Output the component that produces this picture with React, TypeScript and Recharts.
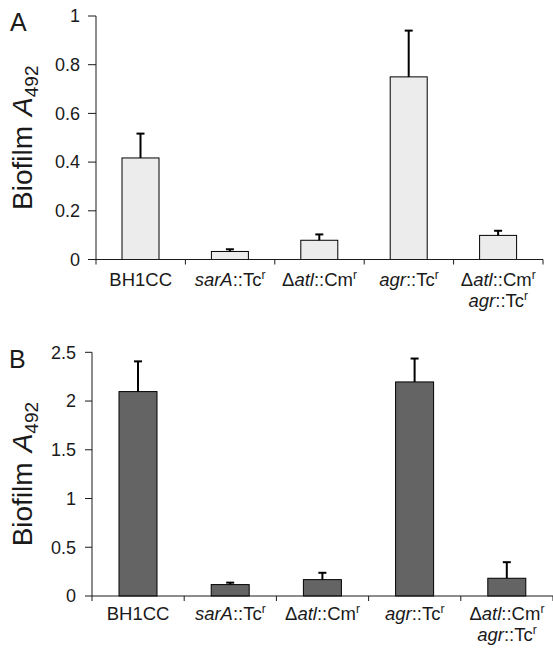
import React from "react";
import { BarChart, Bar, XAxis, YAxis } from "recharts";

// strain labels: *...* = italic, ^x = superscript, | = line break
const strains = ["BH1CC", "*sarA*::Tc^r", "Δ*atl*::Cm^r", "*agr*::Tc^r", "Δ*atl*::Cm^r|*agr*::Tc^r"];

const biofilmA = [0.417, 0.033, 0.079, 0.75, 0.099];
const errorA = [0.1, 0.009, 0.024, 0.19, 0.019];
const ticksA = [0, 0.2, 0.4, 0.6, 0.8, 1];

const biofilmB = [2.097, 0.117, 0.168, 2.196, 0.182];
const errorB = [0.31, 0.02, 0.07, 0.24, 0.165];
const ticksB = [0, 0.5, 1, 1.5, 2, 2.5];

const FONT = "'Liberation Sans', Arial, Helvetica, sans-serif";
const INK = "#1a1a1a";
const W = 553;

type Part = { text: string; italic: boolean; sup: boolean };

function parseLine(line: string): Part[] {
  const parts: Part[] = [];
  let italic = false;
  let buf = "";
  for (let i = 0; i < line.length; i++) {
    const ch = line[i];
    if (ch === "*") {
      if (buf) parts.push({ text: buf, italic, sup: false });
      buf = "";
      italic = !italic;
    } else if (ch === "^") {
      if (buf) parts.push({ text: buf, italic, sup: false });
      buf = "";
      parts.push({ text: line[i + 1], italic, sup: true });
      i++;
    } else {
      buf += ch;
    }
  }
  if (buf) parts.push({ text: buf, italic, sup: false });
  return parts;
}

function StrainTick(props: any) {
  const { x, y, payload, index, band, baseline, gap } = props;
  const half = typeof payload?.offset === "number" && payload.offset > 0 ? payload.offset : band / 2;
  const lines = String(payload.value).split("|");
  return (
    <g>
      <line x1={x - half} x2={x - half} y1={y} y2={y + 5} stroke={INK} strokeWidth={1} />
      {index === strains.length - 1 && (
        <line x1={x + half} x2={x + half} y1={y} y2={y + 5} stroke={INK} strokeWidth={1} />
      )}
      {lines.map((line, li) => (
        <text key={li} x={x} y={y + baseline + li * gap} textAnchor="middle" fontSize={18.5} fontFamily={FONT} fill={INK}>
          {parseLine(line).map((p, pi) => (
            <tspan
              key={pi}
              fontStyle={p.italic ? "italic" : "normal"}
              fontSize={p.sup ? 12 : 18.5}
              dy={p.sup ? -7 : 0}
            >
              {p.text}
            </tspan>
          ))}
        </text>
      ))}
    </g>
  );
}

// bar with a plus-only error whisker; whisker length follows the bar's own pixel scale
function BarWithError(props: any) {
  const { x, y, width, height, fill, payload } = props;
  const errPx = payload.value > 0 ? (height * payload.err) / payload.value : 0;
  const cx = x + width / 2;
  return (
    <g>
      <rect x={x} y={y} width={width} height={height} fill={fill} stroke="#000" strokeWidth={1} />
      <line x1={cx} x2={cx} y1={y} y2={y - errPx} stroke="#000" strokeWidth={2} />
      <line x1={cx - 4} x2={cx + 4} y1={y - errPx} y2={y - errPx} stroke="#000" strokeWidth={2} />
    </g>
  );
}

function YLabel({ viewBox }: any) {
  const cx = 32;
  const cy = viewBox.y + viewBox.height / 2;
  return (
    <text
      x={cx}
      y={cy}
      transform={`rotate(-90, ${cx}, ${cy})`}
      textAnchor="middle"
      fontSize={28}
      fontFamily={FONT}
      fill={INK}
    >
      <tspan>Biofilm</tspan>
      <tspan dx={10} fontStyle="italic">A</tspan>
      <tspan fontSize={19} dy={6}>492</tspan>
    </text>
  );
}

function Panel({
  values,
  errors,
  ticks,
  fill,
  height,
  top,
  yWidth,
  right,
  xHeight,
  tickSize,
  tickMargin,
  barSize,
  baseline,
}: {
  values: number[];
  errors: number[];
  ticks: number[];
  fill: string;
  height: number;
  top: number;
  yWidth: number;
  right: number;
  xHeight: number;
  tickSize: number;
  tickMargin: number;
  barSize: number;
  baseline: number;
}) {
  const data = strains.map((s, i) => ({ strain: s, value: values[i], err: errors[i] }));
  const band = (W - yWidth - right) / strains.length;
  return (
    <BarChart
      width={W}
      height={height}
      data={data}
      margin={{ top, right, left: 0, bottom: 0 }}
      barCategoryGap={0}
    >
      <XAxis
        dataKey="strain"
        height={xHeight}
        tickLine={false}
        tickSize={0}
        tickMargin={0}
        interval={0}
        axisLine={{ stroke: INK, strokeWidth: 1 }}
        tick={(p: any) => <StrainTick {...p} band={band} baseline={baseline} gap={21} />}
      />
      <YAxis
        width={yWidth}
        domain={[ticks[0], ticks[ticks.length - 1]]}
        ticks={ticks}
        tickSize={tickSize}
        tickMargin={tickMargin}
        axisLine={{ stroke: INK, strokeWidth: 1 }}
        tickLine={{ stroke: INK, strokeWidth: 1 }}
        tick={{ fontSize: 18, fontFamily: FONT, fill: INK }}
        tickFormatter={(v: number) => String(v)}
        label={{ content: (lp: any) => <YLabel {...lp} /> }}
      />
      <Bar
        dataKey="value"
        fill={fill}
        barSize={barSize}
        isAnimationActive={false}
        shape={(p: any) => <BarWithError {...p} />}
      />
    </BarChart>
  );
}

export default function App() {
  return (
    <div style={{ position: "absolute", left: 0, top: 0, width: W, height: 651, background: "#fff" }}>
      <div style={{ position: "absolute", left: 0, top: 0 }}>
        <Panel
          values={biofilmA}
          errors={errorA}
          ticks={ticksA}
          fill="#ececec"
          height={320}
          top={16}
          yWidth={96}
          right={10}
          xHeight={60.5}
          tickSize={8}
          tickMargin={8}
          barSize={37}
          baseline={26}
        />
      </div>
      <div style={{ position: "absolute", left: 0, top: 320 }}>
        <Panel
          values={biofilmB}
          errors={errorB}
          ticks={ticksB}
          fill="#646464"
          height={331}
          top={32.3}
          yWidth={92}
          right={0}
          xHeight={55}
          tickSize={7}
          tickMargin={9}
          barSize={38}
          baseline={24}
        />
      </div>
      <svg width={W} height={651} style={{ position: "absolute", left: 0, top: 0, pointerEvents: "none" }}>
        <text x={10} y={31} fontSize={25} fontFamily={FONT} fill={INK}>A</text>
        <text x={9} y={368} fontSize={25} fontFamily={FONT} fill={INK}>B</text>
      </svg>
    </div>
  );
}
